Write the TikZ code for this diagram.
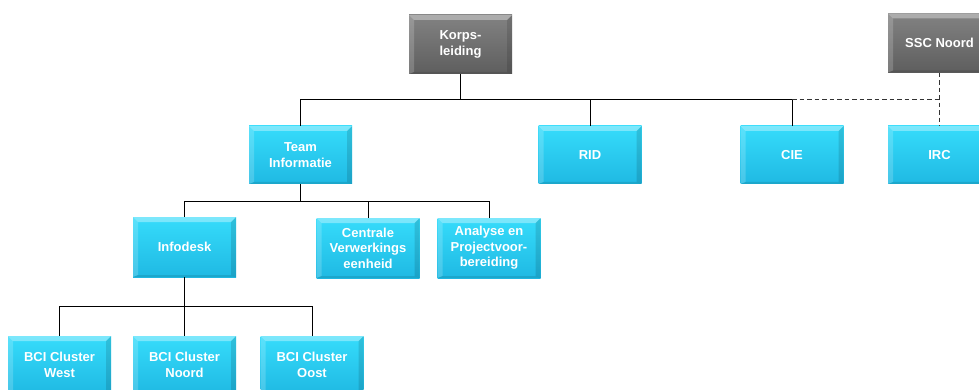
\documentclass[tikz,border=0pt]{standalone}
\usepackage{fontspec}
\setmainfont{Liberation Sans}
\usetikzlibrary{calc}
\definecolor{cyanTop}{HTML}{36DCFB}
\definecolor{cyanBot}{HTML}{1FB9E3}
\definecolor{greyTop}{HTML}{828282}
\definecolor{greyBot}{HTML}{5E5E5E}
\tikzset{
  bevel/.style={path picture={
    \coordinate (pnw) at (path picture bounding box.north west);
    \coordinate (pne) at (path picture bounding box.north east);
    \coordinate (psw) at (path picture bounding box.south west);
    \coordinate (pse) at (path picture bounding box.south east);
    % light top and left edges
    \fill[white,opacity=.35] (pnw) -- (pne) -- ([xshift=-5pt,yshift=-5pt]pne) -- ([xshift=5pt,yshift=-5pt]pnw) -- cycle;
    \fill[white,opacity=.18] (pnw) -- ([xshift=5pt,yshift=-5pt]pnw) -- ([xshift=5pt,yshift=2pt]psw) -- (psw) -- cycle;
    % darker right and bottom edges
    \fill[black,opacity=.12] (pne) -- (pse) -- ([xshift=-5pt,yshift=2pt]pse) -- ([xshift=-5pt,yshift=-5pt]pne) -- cycle;
    \fill[black,opacity=.10] (psw) -- (pse) -- ([xshift=-5pt,yshift=2pt]pse) -- ([xshift=5pt,yshift=2pt]psw) -- cycle;
  }},
  unit/.style={rectangle, minimum width=103pt, minimum height=58pt, inner sep=1pt,
    top color=cyanTop, bottom color=cyanBot, bevel, text=white, align=center,
    font=\fontsize{13}{15.5}\selectfont\bfseries},
  lead/.style={unit, minimum height=59pt, top color=greyTop, bottom color=greyBot},
  link/.style={draw=black, line width=0.9pt},
  dlink/.style={draw=black!80, line width=0.9pt, dash pattern=on 4.5pt off 3pt},
}
\begin{document}
\begin{tikzpicture}[x=1pt,y=-1pt]
\useasboundingbox (0,0) rectangle (979,390);
\begin{scope}
\clip (0,0) rectangle (979,390);
% management level
\node[lead] (korps) at (460.5,44.5) {Korps-\\leiding};
\node[lead] (ssc) at (939.5,43) {SSC Noord};
% second level
\node[unit] (team) at (300.5,155) {Team\\Informatie};
\node[unit] (rid) at (590,155) {RID};
\node[unit] (cie) at (792,155) {CIE};
\node[unit] (irc) at (939.5,155) {IRC};
% third level
\node[unit, minimum height=60pt] (info) at (184.5,247) {Infodesk};
\node[unit, minimum height=60pt] (cve) at (368,248) {Centrale\\Verwerkings\\eenheid};
\node[unit, minimum height=60pt] (ana) at (489,248) {Analyse en\\Projectvoor-\\bereiding};
% fourth level
\node[unit] (west) at (59.5,365) {BCI Cluster\\West};
\node[unit] (noord) at (184.5,365) {BCI Cluster\\Noord};
\node[unit] (oost) at (312,365) {BCI Cluster\\Oost};
\end{scope}
% bus lines
\coordinate (busA) at (0,99);
\coordinate (busB) at (0,201);
\coordinate (busC) at (0,306);
% korpsleiding to its units
\draw[link] (korps.south) -- (korps.south |- busA);
\draw[link] (team.north) |- (cie.north |- busA) -- (cie.north);
\draw[link] (rid.north) -- (rid.north |- busA);
% SSC Noord, dashed
\draw[dlink] (ssc.south) -- (irc.north);
\draw[dlink] (cie.north |- busA) -- (ssc.south |- busA);
% team informatie to its units
\draw[link] (team.south) -- (team.south |- busB);
\draw[link] (info.north) |- (ana.north |- busB) -- (ana.north);
\draw[link] (cve.north) -- (cve.north |- busB);
% infodesk to the clusters
\draw[link] (info.south) -- (info.south |- busC);
\draw[link] (west.north) |- (oost.north |- busC) -- (oost.north);
\draw[link] (noord.north) -- (noord.north |- busC);
\end{tikzpicture}
\end{document}
